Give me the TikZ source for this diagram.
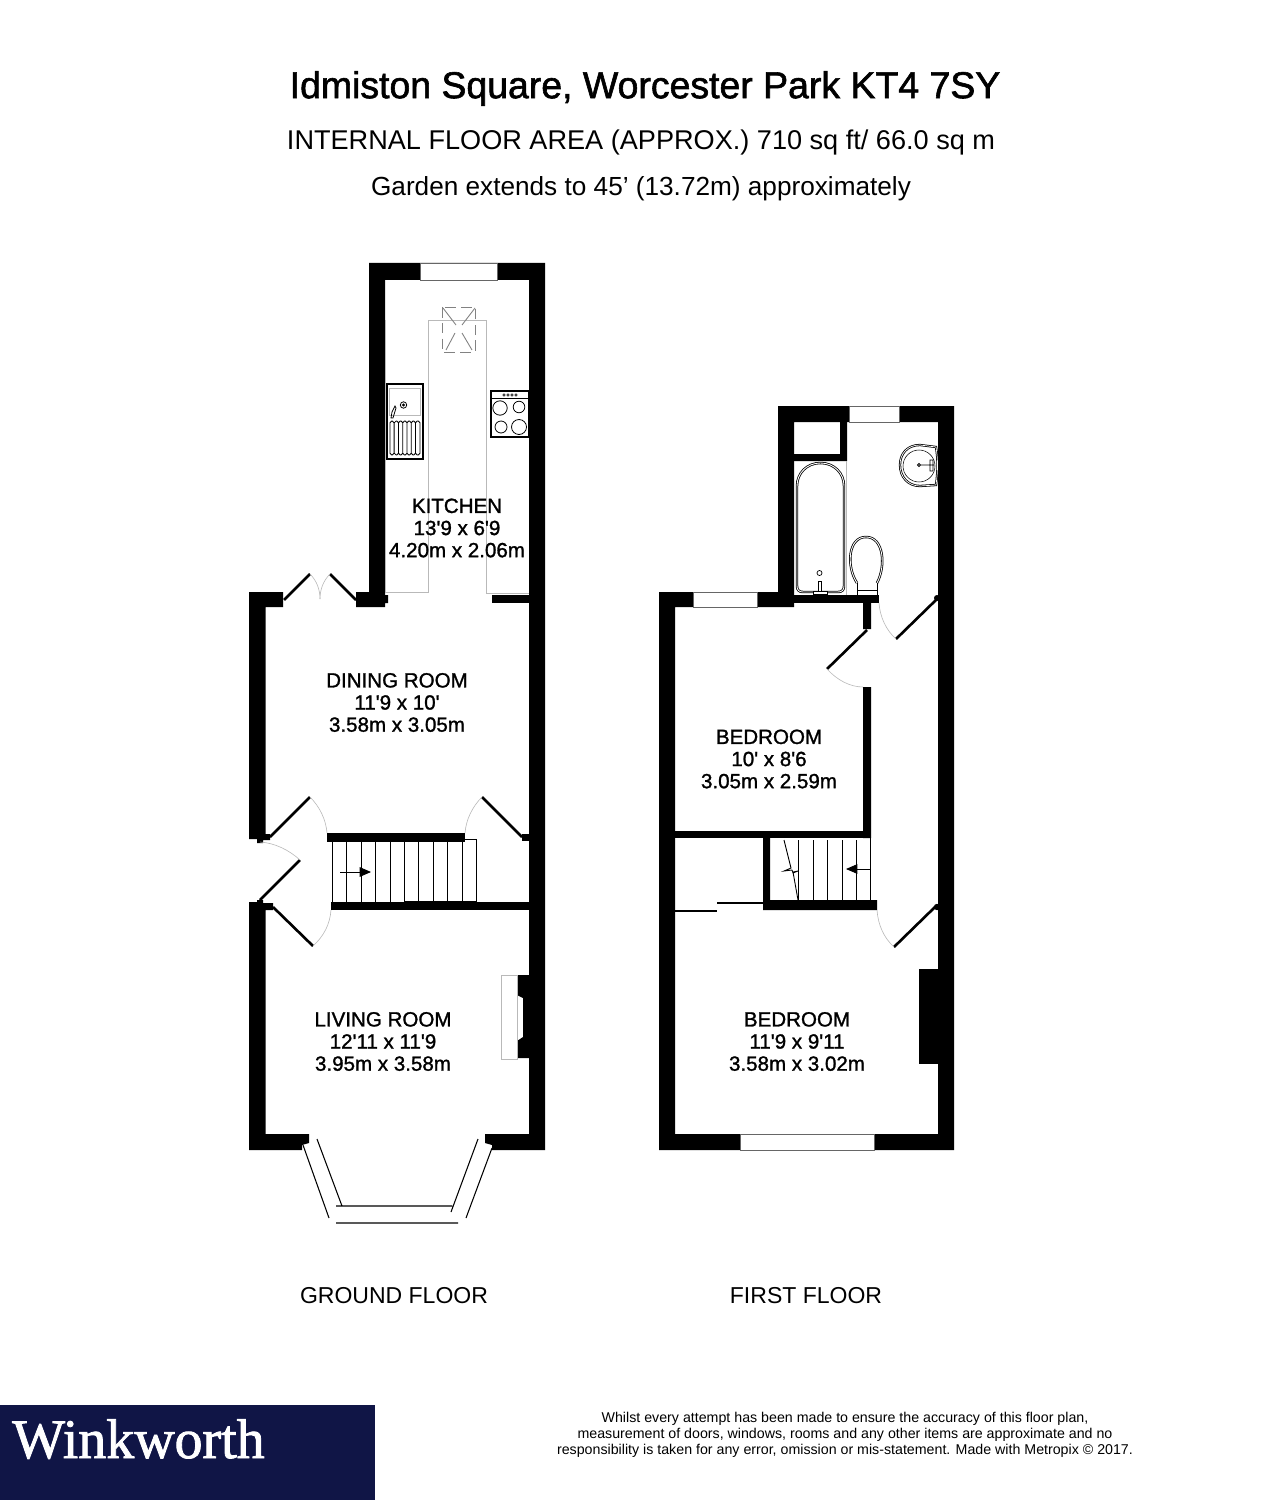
\documentclass[tikz,border=0pt]{standalone}
\usepackage{fontspec}
\setmainfont{Liberation Sans}
\newfontfamily\logofont{Liberation Serif}
\usetikzlibrary{arrows.meta, positioning}
\definecolor{BannerNavy}{RGB}{16,21,70}
\definecolor{FixtureGrey}{RGB}{185,185,185}
\definecolor{SkylightGrey}{RGB}{130,130,130}
\tikzset{
  wall/.style={fill=black},
  pane/.style={fill=white, draw=black!60, line width=0.3pt},
  leaf/.style={line width=1.5pt},
  swing/.style={FixtureGrey, line width=0.35pt},
  worktop/.style={FixtureGrey, line width=0.5pt},
  fixture/.style={line width=0.45pt},
  glazing/.style={line width=0.6pt},
  roomlabel/.style={align=center, font=\fontsize{11.7}{12.6}\selectfont\addfontfeature{FakeBold=1.3}},
  floorlabel/.style={font=\fontsize{13.1}{15}\selectfont}
}
\newcommand{\ftmark}{\textquotesingle}
\begin{document}
\begin{tikzpicture}[x=0.02cm,y=-0.02cm]
\useasboundingbox (0,0) rectangle (1282,1500);
\node at (645,88.5) (Title) {\fontsize{21.3}{25}\selectfont\addfontfeature{FakeBold=1.6}Idmiston Square, Worcester Park KT4 7SY};
\node at (641,142) (Area) {\fontsize{15.43}{18}\selectfont INTERNAL FLOOR AREA (APPROX.) 710 sq ft/ 66.0 sq m};
\node at (641,189) (Garden) {\fontsize{14.9}{18}\selectfont Garden extends to 45’ (13.72m) approximately};
\path[wall] (369,263) -- (545,263) -- (545,1150) -- (492,1150) -- (492,1145) -- (485,1143) -- (485,1134) -- (529,1134) -- (529,280) -- (385,280) -- (385,595) -- (388,595) -- (388,603) -- (385,603) -- (385,607) -- (356,607) -- (356,592) -- (369,592) -- cycle;
\path[wall] (492,595) rectangle (529,603);
\path[wall] (249,592) -- (283,592) -- (283,607) -- (265.5,607) -- (265.5,834) -- (270,834) -- (270,840) -- (263,840) -- (263,843) -- (257,843) -- (257,839) -- (249,839) -- cycle;
\path[wall] (249,902) -- (257,902) -- (257,900) -- (263,900) -- (263,903) -- (273,903) -- (273,910) -- (265.5,910) -- (265.5,1134) -- (309,1134) -- (309,1143) -- (302,1145) -- (302,1150) -- (249,1150) -- cycle;
\path[wall] (327,833) rectangle (465,842);
\path[wall] (331,902) rectangle (529,910);
\path[wall] (522,834) rectangle (529,841);
\draw[pane] (420,263) rectangle (497,280);
\draw[worktop] (385,320) -- (385,592) -- (428,592) -- (428,320) -- (486,320) -- (486,593) -- (529,593);
\draw[SkylightGrey, line width=0.5pt, dash pattern=on 6pt off 3pt] (442,307) rectangle (475,352);
\draw[SkylightGrey, line width=0.5pt] (443,308) -- (456,325) (475,308) -- (462,325) (446,350) -- (455,333) (472,350) -- (462,333);
\draw[fill=white, line width=0.6pt] (387,384) rectangle (423,459);
\draw[FixtureGrey, line width=0.5pt] (389,388) rectangle (420,415);
\draw[fixture] (403.5,405) circle[radius=3.2] (403.5,405) circle[radius=1];
\draw[fixture] (395,406) -- (392,412) -- (391,418) -- (393,418) -- (396,408) -- cycle;
\draw[fixture, rounded corners=1pt] (390,421) rectangle (394,455) (394.3,421) rectangle (398.5,455) (398.5,421) rectangle (402.7,455) (402.7,421) rectangle (407,455) (407,421) rectangle (411.2,455) (411.2,421) rectangle (415.5,455) (415.5,421) rectangle (420,455);
\draw[fill=white, line width=0.6pt] (491,391) rectangle (529,437);
\draw[fixture] (491,398) -- (529,398);
\draw[line width=0.3pt] (504,395) circle[radius=1.2] (508,395) circle[radius=1.2] (512,395) circle[radius=1.2] (516,395) circle[radius=1.2];
\draw[fixture] (500,408) circle[radius=7.2] (519,407) circle[radius=5.8] (501,427) circle[radius=6] (519,427) circle[radius=7.5];
\node[roomlabel] at (457,528) (Kitchen) {KITCHEN\\13\ftmark 9 x 6\ftmark 9\\4.20m x 2.06m};
\draw[leaf] (284,600) -- (310,574);
\draw[leaf] (356,600) -- (330,574);
\draw[swing] (310,574) .. controls (317,581) and (320,590) .. (320,599);
\draw[swing] (330,574) .. controls (323,581) and (320,590) .. (320,599);
\node[roomlabel] at (397,702.5) (Dining) {DINING ROOM\\11\ftmark 9 x 10\ftmark\\3.58m x 3.05m};
\draw[leaf] (270,837) -- (310,797);
\draw[swing] (310,797) .. controls (320,807) and (326,820) .. (327,833);
\draw[leaf] (522,837) -- (482,797);
\draw[swing] (482,797) .. controls (472,807) and (466,820) .. (465,833);
\draw[leaf] (260,900) -- (300,860);
\draw[swing] (300,860) .. controls (289,850) and (275,843) .. (260,842);
\draw[leaf] (273,907) -- (313,946);
\draw[swing] (313,946) .. controls (324,936) and (330,924) .. (331,910);
\draw[line width=0.5pt] (332,842) -- (332,902) (346,842) -- (346,902) (361,842) -- (361,902) (375,842) -- (375,902) (390,842) -- (390,902) (404,842) -- (404,901) (418,842) -- (418,901) (433,842) -- (433,901) (447,842) -- (447,901) (462,842) -- (462,901);
\draw[line width=0.5pt] (465,839) -- (476,839) -- (476,901) -- (404,901);
\draw[line width=0.5pt, -{Triangle[length=6.5pt, width=5.5pt]}] (340,872) -- (371,872);
\path[wall] (517,975) -- (529,975) -- (529,1058) -- (517,1058) -- (517,1041) -- (523,1037) -- (523,998) -- (517,995) -- cycle;
\draw[worktop] (517,975) -- (501,975) -- (501,1059) -- (517,1059) -- cycle;
\node[roomlabel] at (383,1041.5) (Living) {LIVING ROOM\\12\ftmark 11 x 11\ftmark 9\\3.95m x 3.58m};
\draw[glazing] (303,1145) -- (329,1218) (317,1139) -- (342,1206) (336,1206) -- (452,1206) (336,1223) -- (458,1223) (478,1139) -- (451,1212) (492,1148) -- (466,1218);
\node[floorlabel] at (394,1296) (Ground) {GROUND FLOOR};
\path[wall] (778,406) rectangle (954,422) (778,406) rectangle (794,607) (938,406) rectangle (954,1150) (659,592) rectangle (794,607) (659,592) rectangle (675,1150) (659,1134) rectangle (954,1150);
\path[wall] (840,422) rectangle (847,461) (794,454) rectangle (847,461);
\path[wall] (794,595) rectangle (879,603);
\path[wall] (863,603) rectangle (871,629) (863,687) rectangle (871,838);
\path[wall] (675,831) rectangle (871,838);
\path[wall] (763,838) rectangle (770,910) (763,900) rectangle (877,910);
\path[wall] (919,969) rectangle (938,1064);
\path[wall] (937,907) circle[radius=3.2] (937,598) circle[radius=3];
\draw[pane] (849,406) rectangle (899,422);
\draw[pane] (693,592) rectangle (757,607);
\draw[pane] (740,1134) rectangle (874,1150);
\draw[FixtureGrey, line width=0.5pt] (846,461) -- (846,595);
\draw[fixture, double, double distance=0.5pt] (797,586) -- (797,486) .. controls (797,473) and (807,463) .. (820.5,463) .. controls (834,463) and (844,473) .. (844,486) -- (844,586) .. controls (844,590) and (842,592) .. (838,592) -- (803,592) .. controls (799,592) and (797,590) .. (797,586) -- cycle;
\draw[fill=white, line width=0.4pt] (819.5,573) circle[radius=2.5];
\draw[fill=white, line width=0.4pt] (818,581) rectangle (821,591) (813,591) rectangle (827,594);
\draw[fixture, double, double distance=0.5pt] (857,583) .. controls (846,566) and (848,537) .. (866,537) .. controls (884,537) and (886,566) .. (877,583);
\draw[fixture] (857,583) -- (857,595) -- (877,595) -- (877,583) (857,590) -- (877,590);
\draw[fill=white, fixture, double, double distance=0.4pt] (936,447) -- (920,445) .. controls (907,445) and (900,454) .. (900,465) .. controls (900,477) and (908,486) .. (920,486) -- (936,485) .. controls (938,470) and (938,460) .. (936,447) -- cycle;
\draw[line width=0.3pt] (919,466) circle[radius=16];
\draw[fixture] (919,465) circle[radius=1.5] (921,465) -- (934,465) (930,460) rectangle (933,471);
\node[roomlabel] at (769,759) (BedroomA) {BEDROOM\\10\ftmark\ x 8\ftmark 6\\3.05m x 2.59m};
\draw[leaf] (937,599) -- (896,639);
\draw[swing] (896,639) .. controls (886,630) and (880,617) .. (879,603);
\draw[leaf] (867,630) -- (827,669);
\draw[swing] (827,669) .. controls (837,680) and (850,687) .. (863,687);
\draw[line width=0.5pt] (798,840) -- (798,900) (813,840) -- (813,900) (827,840) -- (827,900) (842,840) -- (842,900) (856,840) -- (856,900) (870.5,838) -- (870.5,900);
\draw[line width=0.5pt] (784,840) -- (791,868) -- (784,871) -- (792,870) -- (793,873) -- (798,871) -- (793,872) -- (798,900);
\draw[line width=0.5pt, -{Triangle[length=6.5pt, width=5.5pt]}] (871,869) -- (846,869);
\draw[leaf] (675,911) -- (717,911);
\draw[leaf] (717,903) -- (763,903);
\draw[leaf] (935,907) -- (894,947);
\draw[swing] (894,947) .. controls (884,938) and (878,925) .. (877,910);
\node[roomlabel] at (797,1041.5) (BedroomB) {BEDROOM\\11\ftmark 9 x 9\ftmark 11\\3.58m x 3.02m};
\node[floorlabel] at (806,1296) (First) {FIRST FLOOR};
\path[fill=BannerNavy] (0,1405) rectangle (375,1500);
\node[anchor=base west, white, inner sep=0pt] at (12,1458) (Logo) {\logofont\fontsize{31.8}{36}\selectfont\addfontfeature{FakeBold=1.5}Winkworth};
\node[align=center, font=\fontsize{8.09}{9.1}\selectfont] at (845,1434.5) (Notes) {Whilst every attempt has been made to ensure the accuracy of this floor plan,\\measurement of doors, windows, rooms and any other items are approximate and no\\responsibility is taken for any error, omission or mis-statement. Made with Metropix © 2017.};
\end{tikzpicture}
\end{document}
